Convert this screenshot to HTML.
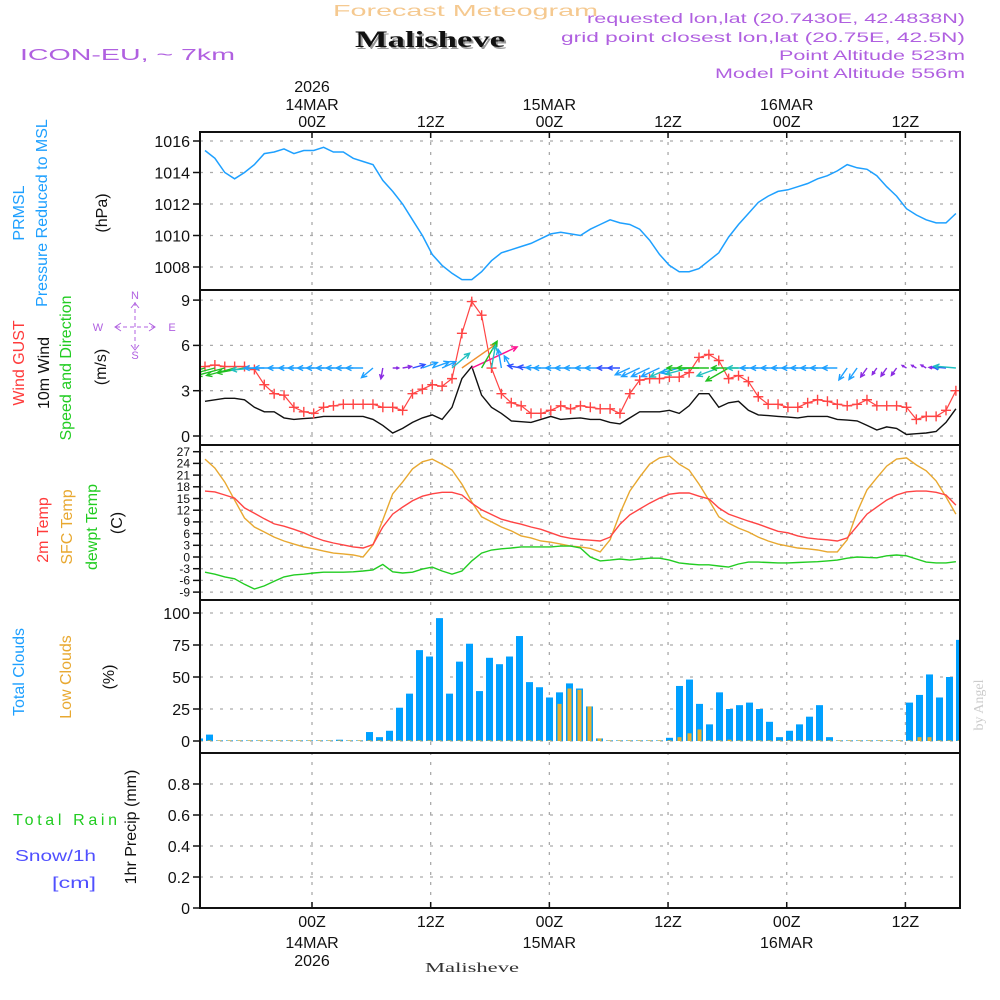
<!DOCTYPE html>
<html><head><meta charset="utf-8"><style>
html,body{margin:0;padding:0;background:#fff;}
svg{display:block;font-family:"Liberation Sans",sans-serif;}
</style></head><body>
<svg id="chart" width="1000" height="1000" viewBox="0 0 1000 1000" xmlns="http://www.w3.org/2000/svg">
<defs>
<clipPath id="clipPlot"><rect x="200" y="132" width="760" height="776"/></clipPath>
<clipPath id="clipWind"><rect x="200" y="290" width="760" height="155"/></clipPath>
</defs>
<text x="333" y="16" font-size="16" fill="#f5c990" textLength="265" lengthAdjust="spacingAndGlyphs">Forecast Meteogram</text>
<text x="357" y="49" font-size="23" font-weight="bold" font-family="Liberation Serif, serif" fill="#999" textLength="150" lengthAdjust="spacingAndGlyphs">Malisheve</text>
<text x="355" y="47" font-size="23" font-weight="bold" font-family="Liberation Serif, serif" fill="#111" textLength="150" lengthAdjust="spacingAndGlyphs">Malisheve</text>
<text x="20" y="60" font-size="16" fill="#b060e0" textLength="215" lengthAdjust="spacingAndGlyphs">ICON-EU, ~ 7km</text>
<g fill="#b060e0" font-size="14" text-anchor="end">
<text x="965" y="23" textLength="378" lengthAdjust="spacingAndGlyphs">requested lon,lat (20.7430E, 42.4838N)</text>
<text x="965" y="42" textLength="404" lengthAdjust="spacingAndGlyphs">grid point closest lon,lat (20.75E, 42.5N)</text>
<text x="965" y="60" textLength="186" lengthAdjust="spacingAndGlyphs">Point Altitude 523m</text>
<text x="965" y="78" textLength="250" lengthAdjust="spacingAndGlyphs">Model Point Altitude 556m</text>
</g>
<g id="grid"></g>
<g id="series" clip-path="url(#clipPlot)"></g>
<g id="winds" clip-path="url(#clipWind)"></g>
<g id="frames"></g>
<g id="axes" font-size="16" fill="#111"></g>

<g font-size="16">
<text transform="translate(24,213) rotate(-90)" text-anchor="middle" fill="#1ea0ff">PRMSL</text>
<text transform="translate(47,213) rotate(-90)" text-anchor="middle" fill="#1ea0ff">Pressure Reduced to MSL</text>
<text transform="translate(107,213) rotate(-90)" text-anchor="middle" fill="#111">(hPa)</text>
<text transform="translate(24,363) rotate(-90)" text-anchor="middle" fill="#ff3b3b">Wind GUST</text>
<text transform="translate(49,373) rotate(-90)" text-anchor="middle" fill="#111">10m Wind</text>
<text transform="translate(71,368) rotate(-90)" text-anchor="middle" fill="#22cc22">Speed and Direction</text>
<text transform="translate(106,367) rotate(-90)" text-anchor="middle" fill="#111">(m/s)</text>
<g fill="#b060e0" stroke="#b060e0" font-size="11" text-anchor="middle">
<text stroke="none" x="135" y="299">N</text><text stroke="none" x="135" y="359">S</text>
<text stroke="none" x="98" y="331">W</text><text stroke="none" x="172" y="331">E</text>
<line x1="116" y1="327" x2="155" y2="327" stroke-dasharray="4,3"/><line x1="135" y1="302" x2="135" y2="350" stroke-dasharray="4,3"/>
<path d="M121,323 L115,327 L121,331 M149,323 L155,327 L149,331 M131,308 L135,303 L139,308 M131,345 L135,350 L139,345" fill="none"/>
</g>
<text transform="translate(48,530) rotate(-90)" text-anchor="middle" fill="#ff3b3b">2m Temp</text>
<text transform="translate(72,527) rotate(-90)" text-anchor="middle" fill="#e8a830">SFC Temp</text>
<text transform="translate(97,527) rotate(-90)" text-anchor="middle" fill="#22cc22">dewpt Temp</text>
<text transform="translate(122,523) rotate(-90)" text-anchor="middle" fill="#111">(C)</text>
<text transform="translate(24,672) rotate(-90)" text-anchor="middle" fill="#1ea0ff">Total Clouds</text>
<text transform="translate(71,677) rotate(-90)" text-anchor="middle" fill="#e8a830">Low Clouds</text>
<text transform="translate(114,677) rotate(-90)" text-anchor="middle" fill="#111">(%)</text>
<text transform="translate(136,827) rotate(-90)" text-anchor="middle" fill="#111">1hr Precip (mm)</text>
<text x="13" y="825" fill="#22cc22" textLength="104" lengthAdjust="spacing">Total  Rain</text>
<text x="15" y="861" fill="#5050ff" textLength="81" lengthAdjust="spacingAndGlyphs">Snow/1h</text>
<text x="52" y="888" fill="#5050ff" textLength="44" lengthAdjust="spacingAndGlyphs">[cm]</text>
<text transform="translate(983,705) rotate(-90)" text-anchor="middle" font-size="14" font-family="Liberation Serif, serif" fill="#ccc">by Angel</text>
<text x="472" y="972" text-anchor="middle" font-size="14" font-family="Liberation Serif, serif" fill="#333" textLength="94" lengthAdjust="spacingAndGlyphs">Malisheve</text>
</g>
</svg>
<script>
const pressure = [1015.4,1014.9,1014.0,1013.6,1014.0,1014.5,1015.2,1015.3,1015.5,1015.2,1015.4,1015.4,1015.6,1015.3,1015.3,1014.9,1014.7,1014.5,1013.5,1012.8,1012.0,1011.0,1010.0,1008.8,1008.1,1007.6,1007.2,1007.2,1007.7,1008.4,1008.9,1009.1,1009.3,1009.5,1009.8,1010.1,1010.2,1010.1,1010.0,1010.4,1010.7,1011.0,1010.8,1010.7,1010.4,1009.7,1008.8,1008.1,1007.7,1007.7,1007.9,1008.4,1008.9,1009.9,1010.7,1011.4,1012.1,1012.5,1012.8,1012.9,1013.1,1013.3,1013.6,1013.8,1014.1,1014.5,1014.3,1014.2,1013.8,1013.1,1012.5,1011.7,1011.3,1011.0,1010.8,1010.8,1011.4];
const gust = [4.6,4.7,4.6,4.6,4.6,4.4,3.4,2.8,2.7,1.9,1.6,1.5,1.9,2.0,2.1,2.1,2.1,2.1,1.9,1.9,1.7,2.8,3.1,3.4,3.3,3.8,6.8,8.9,8.0,4.5,2.8,2.2,2.0,1.5,1.5,1.7,2.0,1.8,2.0,1.9,1.8,1.8,1.5,2.8,3.7,3.8,3.8,3.9,3.9,4.2,5.2,5.4,5.0,3.8,4.0,3.6,2.6,2.1,2.1,1.9,1.9,2.2,2.4,2.3,2.1,2.0,2.1,2.4,2.0,2.0,2.0,1.9,1.1,1.3,1.3,1.7,3.0];
const wind10m = [2.3,2.4,2.5,2.5,2.4,1.9,1.6,1.6,1.2,1.1,1.15,1.2,1.3,1.3,1.3,1.3,1.3,1.1,0.7,0.2,0.5,0.9,1.2,1.4,1.1,1.9,3.8,4.6,2.7,1.9,1.5,1.0,0.95,0.9,1.1,1.3,1.1,1.15,1.2,1.1,1.1,0.9,0.8,1.2,1.6,1.6,1.6,1.7,1.5,2.0,2.8,2.8,1.9,2.2,2.3,1.7,1.4,1.35,1.3,1.25,1.2,1.3,1.3,1.3,1.1,1.05,1.0,0.7,0.4,0.6,0.5,0.1,0.15,0.2,0.3,0.9,1.8];
const windDir = [195,195,195,195,190,185,180,180,180,180,180,180,180,180,180,180,180,220,260,0,10,15,20,20,25,40,35,25,60,80,100,120,170,175,178,180,180,180,180,180,180,180,180,205,205,205,205,205,195,195,180,180,200,210,180,180,180,180,180,180,180,180,180,180,180,235,235,235,235,235,235,150,150,150,175,175,175];
const temp2m = [16.9,16.7,15.9,15.1,12.6,11.2,9.8,8.5,7.9,7.1,6.2,5.1,4.2,3.6,3.1,2.6,2.3,3.2,7.7,11.0,12.8,14.4,15.6,16.2,16.6,16.6,15.9,13.8,12.1,10.9,9.7,9.0,8.4,7.7,7.1,6.2,5.3,4.8,4.5,4.3,4.1,5.1,8.4,10.8,12.3,13.8,15.1,16.1,16.4,16.4,15.6,14.9,12.6,11.0,10.1,9.2,8.4,7.5,6.6,6.2,5.4,4.9,4.6,4.4,4.1,4.9,7.9,11.0,12.8,14.6,15.9,16.7,16.9,16.9,16.6,15.9,13.3];
const tempSfc = [25.1,22.8,19.2,14.6,10.0,7.7,6.4,5.1,4.1,3.3,2.6,2.1,1.5,1.0,0.8,0.5,0,3.1,9.5,16.2,19.2,22.6,24.4,25.1,23.8,22.3,18.7,14.1,10.3,9.0,7.7,6.7,5.4,4.9,4.1,3.8,3.3,2.8,2.6,2.2,1.3,4.4,11.2,16.9,20.5,23.8,25.4,25.9,23.8,22.3,18.7,14.6,10.3,8.7,7.4,6.4,5.1,4.1,3.3,2.8,2.3,2.1,1.8,1.3,1.3,4.4,11.5,17.2,20.3,23.3,25.1,25.4,23.6,22.1,19.5,15.4,11.0];
const dewpt = [-3.9,-4.4,-5.1,-5.6,-7.0,-8.2,-7.4,-6.2,-5.1,-4.6,-4.4,-4.1,-3.9,-3.9,-3.9,-3.8,-3.6,-3.3,-1.9,-3.8,-4.1,-3.9,-3.1,-2.6,-3.6,-4.4,-3.6,-1.0,1.0,1.8,2.1,2.3,2.6,2.6,2.6,2.6,2.8,2.8,2.3,0,-1.0,-0.8,-0.5,-0.8,-0.5,-0.3,-0.3,-0.8,-1.5,-1.8,-2.0,-2.0,-2.3,-2.6,-1.8,-1.3,-1.3,-1.4,-1.5,-1.5,-1.4,-1.3,-1.2,-1.0,-0.8,-0.3,0,-0.1,-0.2,0.3,0.5,0.3,-0.5,-1.3,-1.5,-1.5,-1.2];
const totalClouds = [2,5,0.5,0.5,0.5,0.5,0.5,0.5,0.5,0.5,0.5,0.5,0.5,0.5,1,0.5,0.5,7,3,8,26,37,71,66,96,37,62,76,39,65,60,66,82,46,42,34,38,45,41,27,2,0.5,0.5,0.5,0.5,0.5,0.5,2.5,43,48,29,13,38,25,28,30,25,15,3,8,13,19,28,3,0.5,0.5,0.5,0.5,0.5,0.5,0.5,30,36,52,34,50,79];
const lowClouds = [0.5,0.5,0.5,0.5,0.5,0.5,0.5,0.5,0.5,0.5,0.5,0.5,0.5,0.5,0.5,0.5,0.5,0.5,0.5,0.5,0.5,0.5,0.5,0.5,0.5,0.5,0.5,0.5,0.5,0.5,0.5,0.5,0.5,0.5,0.5,0.5,29,41,40,27,2,0.5,0.5,0.5,0.5,0.5,0.5,0.5,3,6,9,0.5,0.5,1,0.5,0.5,0.5,0.5,0.5,0.5,0.5,0.5,0.5,0.5,0.5,0.5,0.5,0.5,0.5,0.5,0.5,0.5,3,3,0.5,0.5,0.5];
const pressureTicks = [1008,1010,1012,1014,1016];
const windTicks = [0,3,6,9];
const tempTicks = [-9,-6,-3,0,3,6,9,12,15,18,21,24,27];
const cloudTicks = [0,25,50,75,100];
const precipTicks = [0,0.2,0.4,0.6,0.8];
const timeHours = [0,12,24,36,48,60];
const timeLabels = ["00Z","12Z","00Z","12Z","00Z","12Z"];
const dateLabels = ["14MAR","","15MAR","","16MAR",""];

const NS="http://www.w3.org/2000/svg";
function mk(tag, attrs, parent){const e=document.createElementNS(NS,tag);for(const k in attrs)e.setAttribute(k,attrs[k]);parent.appendChild(e);return e;}
const xHour = i => 205 + i*9.88;
const xTime = h => 312 + h*9.89;
const xBar = i => 199.5 + i*10;
const yP = p => 141 + (1016-p)*15.75;
const yW = v => 436 - v*15.1;
const yT = t => 557 - t*3.9;
const yC = c => 741 - c*1.28;
const yR = r => 908 - r*155;
const grid=document.getElementById('grid'), series=document.getElementById('series'), winds=document.getElementById('winds'), frames=document.getElementById('frames'), axes=document.getElementById('axes');
const panels=[[132,290],[290,445],[445,600],[600,753],[753,908]];

function hgrid(vals, yf, name){vals.forEach(v=>{const l=mk('line',{x1:200,x2:960,y1:yf(v),y2:yf(v),stroke:'#aaa','stroke-width':1.3,'stroke-dasharray':'3,7'},grid);

});}
hgrid(pressureTicks,yP,'pressure');hgrid(windTicks,yW,'wind');hgrid(tempTicks,yT,'temp');hgrid(cloudTicks,yC,'cloud');hgrid(precipTicks.slice(1),yR,'precip');
timeHours.forEach(h=>{const l=mk('line',{x1:xTime(h),x2:xTime(h),y1:132,y2:908,stroke:'#aaa','stroke-width':1.3,'stroke-dasharray':'3,7'},grid);

});
const zl=mk('line',{x1:200,x2:960,y1:yR(0),y2:yR(0),stroke:'#111','stroke-width':1.5,'stroke-dasharray':'6,3'},grid);



function line(vals, yf, color, name, w){const pts=vals.map((v,i)=>xHour(i).toFixed(1)+','+yf(v).toFixed(1)).join(' ');
const p=mk('polyline',{points:pts,fill:'none',stroke:color,'stroke-width':w||1.4},series);

}

// clouds bars
totalClouds.forEach((v,i)=>{const r=mk('rect',{x:xBar(i)-3.5,y:yC(v),width:7,height:yC(0)-yC(v),fill:'#00a0ff'},series);

});
lowClouds.forEach((v,i)=>{const r=mk('rect',{x:xBar(i)-2,y:yC(v),width:4,height:yC(0)-yC(v),fill:'#e8b030'},series);

});

line(pressure,yP,'#1ea0ff','pressure-line',1.5);
line(wind10m,yW,'#111','wind-10m-line',1.4);
line(gust,yW,'#ff4444','gust-line',1.2);
gust.forEach((v,i)=>{const x=xHour(i),y=yW(v);const g=mk('path',{d:`M${x-5},${y}H${x+5}M${x},${y-5}V${y+5}`,stroke:'#ff4444','stroke-width':1.4},series);

});
line(tempSfc,yT,'#e8a830','sfc-temp-line',1.4);
line(temp2m,yT,'#ff4444','temp-2m-line',1.4);
line(dewpt,yT,'#22cc22','dewpt-line',1.4);

function wcol(s){if(s<0.75)return '#8a2be2';if(s<1.0)return '#3050ff';if(s<1.7)return '#1ea0ff';if(s<2.2)return '#20c0c0';if(s<3.0)return '#20c020';if(s<3.5)return '#a0e020';if(s<4.3)return '#f09030';return '#ff1090';}
windDir.forEach((d,i)=>{const s=wind10m[i];const len=4+10*s;const a=d*Math.PI/180;const x0=xHour(i),y0=368;const x1=x0+len*Math.cos(a),y1=y0-len*Math.sin(a);
const hl=Math.min(6,len*0.45);const b1=a+Math.PI-0.45,b2=a+Math.PI+0.45;
const dstr=`M${x0.toFixed(1)},${y0}L${x1.toFixed(1)},${y1.toFixed(1)}M${(x1+hl*Math.cos(b1)).toFixed(1)},${(y1-hl*Math.sin(b1)).toFixed(1)}L${x1.toFixed(1)},${y1.toFixed(1)}L${(x1+hl*Math.cos(b2)).toFixed(1)},${(y1-hl*Math.sin(b2)).toFixed(1)}`;
const p=mk('path',{d:dstr,fill:'none',stroke:wcol(s),'stroke-width':1.4},winds);

});

panels.forEach(([a,b],k)=>{const r=mk('rect',{x:200,y:a,width:760,height:b-a,fill:'none',stroke:'#111','stroke-width':2},frames);

});

function yAxis(vals,yf,fmt,fs,name){vals.forEach(v=>{const y=yf(v);mk('line',{x1:193,x2:200,y1:y,y2:y,stroke:'#111','stroke-width':1.5},axes);
const t=mk('text',{x:190,y:y+fs*0.36,'text-anchor':'end','font-size':fs},axes);t.textContent=fmt(v);

});}
yAxis(pressureTicks,yP,v=>String(v),16,'pressure');
yAxis(windTicks,yW,v=>String(v),16,'wind');
yAxis(tempTicks,yT,v=>String(v),12,'temp');
yAxis(cloudTicks,yC,v=>String(v),16,'cloud');
yAxis(precipTicks,yR,v=>v===0?'0':v.toFixed(1),16,'precip');

timeHours.forEach((h,k)=>{const x=xTime(h);
mk('line',{x1:x,x2:x,y1:132,y2:138,stroke:'#111','stroke-width':1.5},axes);
mk('line',{x1:x,x2:x,y1:902,y2:908,stroke:'#111','stroke-width':1.5},axes);
const t1=mk('text',{x:x,y:127,'text-anchor':'middle'},axes);t1.textContent=timeLabels[k];


const t2=mk('text',{x:x,y:927,'text-anchor':'middle'},axes);t2.textContent=timeLabels[k];


if(dateLabels[k]){const d1=mk('text',{x:x,y:110,'text-anchor':'middle'},axes);d1.textContent=dateLabels[k];


const d2=mk('text',{x:x,y:948,'text-anchor':'middle'},axes);d2.textContent=dateLabels[k];

}
if(k===0){const y1=mk('text',{x:x,y:92,'text-anchor':'middle'},axes);y1.textContent='2026';


const y2=mk('text',{x:x,y:966,'text-anchor':'middle'},axes);y2.textContent='2026';

}
});
</script>
</body></html>
